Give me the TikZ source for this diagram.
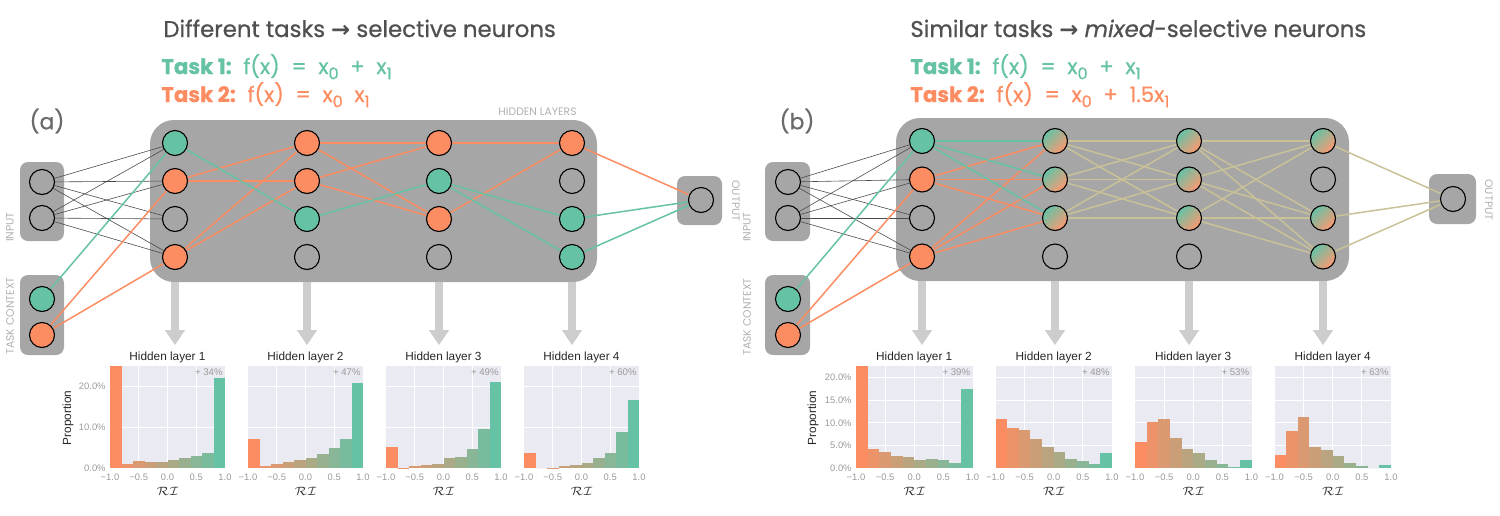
\documentclass[tikz,border=0pt]{standalone}
\usepackage{fontspec}
\setmainfont{Poppins}
\newfontfamily\heavyfont[FakeBold=0.7]{Poppins}
\newfontfamily\plotfont{Liberation Sans}
\newfontfamily\arrowfont{DejaVu Sans}
\usetikzlibrary{arrows.meta,positioning}

\definecolor{taskgreen}{HTML}{66C2A5}
\definecolor{taskorange}{HTML}{FC8D62}
\definecolor{boxgray}{HTML}{A6A6A6}
\definecolor{mixlink}{RGB}{201,193,151}
\definecolor{plotbg}{HTML}{EAEAF2}
\definecolor{titlegray}{HTML}{505050}
\definecolor{taggray}{HTML}{B0B0B0}
\definecolor{arrowgray}{HTML}{CDCDCD}
\definecolor{tickgray}{HTML}{9A9A9A}

\pgfdeclarelayer{boxes}
\pgfdeclarelayer{links}
\pgfsetlayers{boxes,links,main}

% lowered index and wide gap in the task formulas
\newcommand{\lowidx}[1]{\raisebox{-0.45ex}{\fontsize{8}{9}\selectfont #1}}
\newcommand{\gap}{\hspace{0.55em}}

% histogram: name, left edge, width, px per percent, grid, heights, title, share
\newcommand{\rihist}[8]{%
  \node[plot area,minimum width=#3*0.5pt,anchor=south west] (#1) at (#2,468) {};
  \foreach \g in {0.25,0.5,0.75}
    \draw[grid line] ({#2+#3*\g},468) -- ++(0,-102);
  \foreach \g in {#5}
    \draw[grid line] (#2,{468-\g*#4}) -- ++(#3,0);
  \foreach \h [count=\b from 0] in {#6} {
    \pgfmathsetmacro{\ytop}{max(468-\h*#4,366)}
    \pgfmathtruncatemacro{\mix}{\b*100/9}
    \fill[taskgreen!\mix!taskorange] ({#2+#3*\b/10},468) rectangle ({#2+#3*(\b+1)/10},\ytop);
  }
  \foreach \v [count=\k from 0] in {−1.0,−0.5,0.0,0.5,1.0}
    \node[tick label] (#1-x\k) at ({#2+#3*\k/4},477) {\v};
  \node[axis label] (#1-ri) at ({#2+#3/2},491) {$\mathcal{RI}$};
  \node[hist title,above=0.5pt of #1] (#1-t) {#7};
  \node[pct label,anchor=north east] (#1-pct) at (#1.north east) {+ #8\%};
}

\begin{document}
\begin{tikzpicture}[x=0.5pt,y=-0.5pt,
  neuron/.style={circle,draw=black,line width=0.55pt,minimum size=12.5pt,inner sep=0pt},
  idle/.style={neuron},
  task1/.style={neuron,fill=taskgreen},
  task2/.style={neuron,fill=taskorange},
  mixed/.style={neuron,top color=taskgreen,middle color=taskorange!75!taskgreen,bottom color=taskorange!90!white,shading angle=45},
  layer box/.style={fill=boxgray,rounded corners=12pt,inner sep=0pt},
  small box/.style={fill=boxgray,rounded corners=4pt,inner sep=0pt},
  weak link/.style={draw=black!70,line width=0.3pt},
  task1 link/.style={draw=taskgreen,line width=0.75pt},
  task2 link/.style={draw=taskorange,line width=0.75pt},
  mixed link/.style={draw=mixlink,line width=0.75pt},
  down arrow/.style={draw=arrowgray,line width=4pt,-{Triangle[width=9.5pt,length=7.5pt]},shorten >=2pt},
  panel title/.style={anchor=base west,inner sep=0pt,text=titlegray,font=\heavyfont\fontsize{11.4}{13}\selectfont},
  task line/.style={anchor=base west,inner sep=0pt,font=\heavyfont\fontsize{10.6}{12}\selectfont},
  panel tag/.style={text=titlegray!85,font=\heavyfont\fontsize{11}{13}\selectfont},
  box tag/.style={text=taggray,font=\fontsize{5.4}{6}\selectfont,inner sep=0pt},
  plot area/.style={fill=plotbg,minimum height=51pt,inner sep=0pt,outer sep=0pt},
  grid line/.style={white,line width=0.6pt},
  hist title/.style={font=\plotfont\fontsize{5.9}{6.5}\selectfont,text=black!85,inner sep=1pt},
  pct label/.style={font=\plotfont\fontsize{4.8}{5.5}\selectfont,text=tickgray,inner sep=1pt},
  tick label/.style={font=\plotfont\fontsize{4.7}{5.5}\selectfont,text=tickgray,inner sep=0pt},
  axis label/.style={font=\fontsize{6.5}{7}\selectfont,text=black!80,inner sep=0pt}]

\useasboundingbox (0,0) rectangle (1500,515);

% ---------- (a) different tasks ----------
\node[panel tag] (a-tag) at (47,121) {(a)};
\node[panel title] (a-title) at (163,37) {Different tasks {\arrowfont\bfseries →} selective neurons};
\node[task line,text=taskgreen] (a-task1) at (161,74) {\textbf{Task 1:}\gap f(x)\gap=\gap x\lowidx{0}\gap+\gap x\lowidx{1}};
\node[task line,text=taskorange] (a-task2) at (161,102) {\textbf{Task 2:}\gap f(x)\gap=\gap x\lowidx{0}\gap x\lowidx{1}};

\begin{pgfonlayer}{boxes}
  \node[layer box,minimum width=223.5pt,minimum height=81pt] (a-hidden) at (373.5,201) {};
  \node[small box,minimum width=22pt,minimum height=39.5pt] (a-input) at (42,201.5) {};
  \node[small box,minimum width=22pt,minimum height=40pt] (a-context) at (42,315) {};
  \node[small box,minimum width=22.5pt,minimum height=24.5pt] (a-output) at (699.5,200.5) {};
\end{pgfonlayer}
\node[box tag,anchor=base east] (a-hl) at (577,115) {HIDDEN LAYERS};
\node[box tag,rotate=90] (a-inl) at (10,227) {INPUT};
\node[box tag,rotate=90] (a-ctxl) at (10,316) {TASK CONTEXT};
\node[box tag,rotate=-90] (a-outl) at (736,201) {OUTPUT};

\node[idle] (a-in1) at (42,182) {};
\node[idle] (a-in2) at (42,218) {};
\node[task1] (a-ctx1) at (42,299) {};
\node[task2] (a-ctx2) at (42,335) {};
\node[idle] (a-out) at (701,200) {};
\foreach \lx/\kinds [count=\l] in {175/{task1,task2,idle,task2},307/{task2,task2,task1,idle},
    439/{task2,task1,task2,idle},572/{task2,idle,task1,task1}}
  \foreach \k [count=\n] in \kinds
    \node[\k] (a-h\l-\n) at (\lx,{105+38*\n}) {};

\begin{pgfonlayer}{links}
  \foreach \i in {1,2}
    \foreach \n in {1,...,4}
      \path (a-in\i) edge[weak link] (a-h1-\n);
  \path[every edge/.style={task2 link}]
    (a-ctx2) edge (a-h1-2) edge (a-h1-4)
    (a-h1-2) edge (a-h2-1) edge (a-h2-2)
    (a-h1-4) edge (a-h2-1) edge (a-h2-2)
    (a-h2-1) edge (a-h3-1) edge (a-h3-3)
    (a-h2-2) edge (a-h3-1) edge (a-h3-3)
    (a-h3-1) edge (a-h4-1)
    (a-h3-3) edge (a-h4-1)
    (a-h4-1) edge (a-out);
  \path[every edge/.style={task1 link}]
    (a-ctx1) edge (a-h1-1)
    (a-h1-1) edge (a-h2-3)
    (a-h2-3) edge (a-h3-2)
    (a-h3-2) edge (a-h4-3) edge (a-h4-4)
    (a-h4-3) edge (a-out)
    (a-h4-4) edge (a-out);
\end{pgfonlayer}

\rihist{a-p1}{110}{115}{4.07}{10,20}{30,1.0,1.7,1.4,1.5,2.0,2.5,2.9,3.6,22}{Hidden layer 1}{34}
\rihist{a-p2}{248}{115}{4.07}{10,20}{7.1,0.6,1.1,1.5,2.0,2.5,3.4,5.0,7.1,20.8}{Hidden layer 2}{47}
\rihist{a-p3}{386}{115}{4.07}{10,20}{5.2,0.1,0.6,0.7,1.1,2.4,2.7,4.7,9.6,21.2}{Hidden layer 3}{49}
\rihist{a-p4}{524}{115}{4.07}{10,20}{3.6,0,0.1,0.5,0.7,1.3,2.4,3.7,8.8,16.7}{Hidden layer 4}{60}
\foreach \v in {0,10,20}
  \node[tick label,anchor=east] (a-y\v) at (106,{468-\v*4.07}) {\v.0\%};
\node[hist title,rotate=90] (a-prop) at (68,418) {Proportion};

\foreach \l in {1,...,4}
  \draw[down arrow] (a-h\l-4 |- a-hidden.south) -- (a-h\l-4 |- a-p\l-t.north);

% ---------- (b) similar tasks ----------
\node[panel tag] (b-tag) at (797,121) {(b)};
\node[panel title] (b-title) at (910,37) {Similar tasks {\arrowfont\bfseries →} \textit{mixed}-selective neurons};
\node[task line,text=taskgreen] (b-task1) at (910,74) {\textbf{Task 1:}\gap f(x)\gap=\gap x\lowidx{0}\gap+\gap x\lowidx{1}};
\node[task line,text=taskorange] (b-task2) at (910,102) {\textbf{Task 2:}\gap f(x)\gap=\gap x\lowidx{0}\gap+\gap 1.5x\lowidx{1}};

\begin{pgfonlayer}{boxes}
  \node[layer box,minimum width=226.5pt,minimum height=81.5pt] (b-hidden) at (1122.5,199.5) {};
  \node[small box,minimum width=22.5pt,minimum height=39.5pt] (b-input) at (787.5,201.5) {};
  \node[small box,minimum width=22.5pt,minimum height=40pt] (b-context) at (787.5,315) {};
  \node[small box,minimum width=23.5pt,minimum height=25pt] (b-output) at (1452.5,199) {};
\end{pgfonlayer}
\node[box tag,rotate=90] (b-inl) at (747,227) {INPUT};
\node[box tag,rotate=90] (b-ctxl) at (747,317) {TASK CONTEXT};
\node[box tag,rotate=-90] (b-outl) at (1489,200) {OUTPUT};

\node[idle] (b-in1) at (788,182) {};
\node[idle] (b-in2) at (788,218) {};
\node[task1] (b-ctx1) at (788,299) {};
\node[task2] (b-ctx2) at (788,335) {};
\node[idle] (b-out) at (1453,199) {};
\foreach \lx/\kinds [count=\l] in {922/{task1,task2,idle,task2},1055/{mixed,mixed,mixed,idle},
    1189/{mixed,mixed,mixed,idle},1323/{mixed,idle,mixed,mixed}}
  \foreach \k [count=\n] in \kinds
    \node[\k] (b-h\l-\n) at (\lx,{102.5+38.5*\n}) {};

\begin{pgfonlayer}{links}
  \foreach \i in {1,2}
    \foreach \n in {1,...,4}
      \path (b-in\i) edge[weak link] (b-h1-\n);
  \foreach \m in {1,2,3} {
    \foreach \n in {1,2,3}
      \path (b-h2-\m) edge[mixed link] (b-h3-\n);
    \foreach \n in {1,3,4}
      \path (b-h3-\m) edge[mixed link] (b-h4-\n);
  }
  \foreach \n in {1,3,4}
    \path (b-h4-\n) edge[mixed link] (b-out);
  \path[every edge/.style={task2 link}]
    (b-ctx2) edge (b-h1-2) edge (b-h1-4)
    (b-h1-2) edge (b-h2-1) edge (b-h2-2) edge (b-h2-3)
    (b-h1-4) edge (b-h2-1) edge (b-h2-2) edge (b-h2-3);
  \path[every edge/.style={task1 link}]
    (b-ctx1) edge (b-h1-1)
    (b-h1-1) edge (b-h2-1) edge (b-h2-2) edge (b-h2-3);
\end{pgfonlayer}

\rihist{b-p1}{856}{116.5}{4.52}{5,10,15,20}{30,4.2,3.6,2.7,2.5,1.8,2.0,1.8,1.2,17.4}{Hidden layer 1}{39}
\rihist{b-p2}{995.5}{116.5}{4.52}{5,10,15,20}{10.8,8.9,8.4,6.4,4.7,3.5,2.1,1.5,0.9,3.4}{Hidden layer 2}{48}
\rihist{b-p3}{1135}{116.5}{4.52}{5,10,15,20}{5.8,10.1,10.8,6.6,4.1,3.3,1.8,0.8,0.2,1.8}{Hidden layer 3}{53}
\rihist{b-p4}{1274.5}{116.5}{4.52}{5,10,15,20}{2.9,8.2,11.2,4.7,4.0,2.7,1.0,0.5,0,0.6}{Hidden layer 4}{63}
\foreach \v in {0,5,10,15,20}
  \node[tick label,anchor=east] (b-y\v) at (852,{468-\v*4.52}) {\v.0\%};
\node[hist title,rotate=90] (b-prop) at (813,418) {Proportion};

\foreach \l in {1,...,4}
  \draw[down arrow] (b-h\l-4 |- b-hidden.south) -- (b-h\l-4 |- b-p\l-t.north);
\end{tikzpicture}
\end{document}
